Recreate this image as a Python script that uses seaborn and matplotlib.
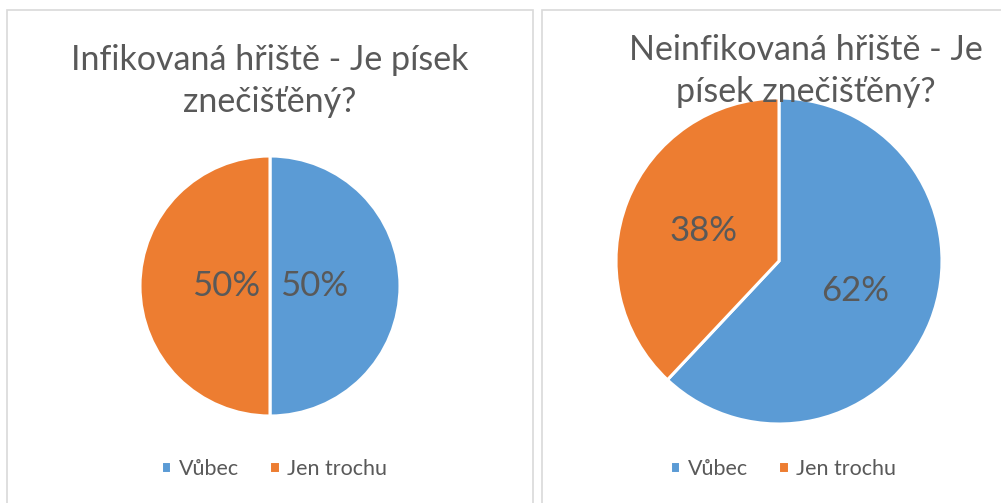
import matplotlib
matplotlib.use("Agg")
import matplotlib.pyplot as plt
import seaborn as sns
from matplotlib.patches import Rectangle

# data
labels = ["Vůbec", "Jen trochu"]
infected = [50, 50]
not_infected = [62, 38]
titles = ["Infikovaná hřiště - Je písek\nznečišťěný?",
          "Neinfikovaná hřiště - Je\npísek znečišťěný?"]

sns.set_theme(style="white")
plt.rcParams['font.family'] = ['Lato', 'DejaVu Sans']
colors = ["#5B9BD5", "#ED7D31"]
txt = "#595959"

W, H = 1001, 503
fig = plt.figure(figsize=(W / 100, H / 100), dpi=100)

def px_box(x0, y0, x1, y1):
    # pixel box (top-left origin) -> figure fraction rect
    return [x0 / W, 1 - y1 / H, (x1 - x0) / W, (y1 - y0) / H]

# panel borders
for x0, x1 in [(7, 533), (542, 1010)]:
    fig.patches.append(Rectangle((x0 / W, -0.02), (x1 - x0) / W, 1.02 - 10 / H,
                                 transform=fig.transFigure, fill=False,
                                 edgecolor="#D9D9D9", linewidth=1.2))

panels = [
    (infected, titles[0], (140, 156, 400, 416), 0.34, (270, 81), (274, 469)),
    (not_infected, titles[1], (616, 98, 942, 424), 0.5, (806, 71), (783, 469)),
]

for vals, title, box, pctd, tpos, lpos in panels:
    ax = fig.add_axes(px_box(*box))
    wedges, _, autotexts = ax.pie(vals, colors=colors, startangle=90, counterclock=False,
                                  autopct='%1.0f%%', pctdistance=pctd,
                                  wedgeprops=dict(edgecolor="white", linewidth=2.2),
                                  textprops=dict(color=txt, fontsize=25))
    for w in wedges:
        w.set_clip_on(False)
    ax.set_xlim(-1, 1)
    ax.set_ylim(-1, 1)
    ax.axis("off")
    fig.text(tpos[0] / W, 1 - tpos[1] / H, title, ha="center", va="center",
             fontsize=24.5, color=txt, linespacing=1.35, zorder=10)
    fig.legend(wedges, labels, loc="center", bbox_to_anchor=(lpos[0] / W, 1 - lpos[1] / H),
               ncol=2, frameon=False, fontsize=15.5, labelcolor=txt,
               handlelength=0.5, handleheight=0.5, handletextpad=0.35, columnspacing=1.4)

fig.savefig("out.png", dpi=100)
